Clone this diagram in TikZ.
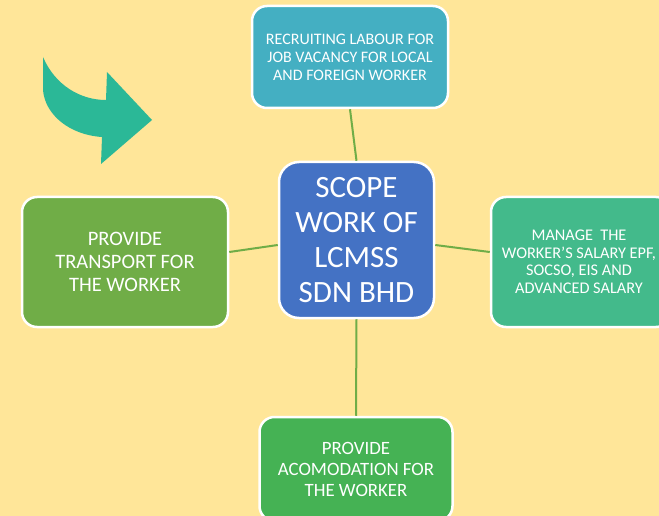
\documentclass[tikz,border=0pt]{standalone}
\usepackage{fontspec}
\setmainfont{Carlito}
\definecolor{bg}{HTML}{FFE699}
\definecolor{topc}{HTML}{44AFC2}
\definecolor{cenc}{HTML}{4472C4}
\definecolor{rightc}{HTML}{43BA8B}
\definecolor{leftc}{HTML}{70AD47}
\definecolor{botc}{HTML}{45B254}
\definecolor{linec}{HTML}{70AD47}
\definecolor{arrc}{HTML}{2BB897}
\tikzset{
  box/.style={draw=white, line width=2.5pt, rounded corners=15pt, text=white, align=center, inner sep=0pt},
  conn/.style={draw=linec, line width=2pt},
}
\begin{document}
\begin{tikzpicture}[x=1pt,y=-1pt]
\fill[bg] (0,0) rectangle (659,516);
\useasboundingbox (0,0) rectangle (659,516);
\clip (0,0) rectangle (659,516);
\fill[arrc] (43,57) .. controls (55,85) and (80,100) .. (106,100) -- (107,72) -- (152,120) -- (101,164) -- (102,137) .. controls (70,135) and (45,115) .. (43,90) -- cycle;
\node[box, fill=topc, minimum width=196pt, minimum height=102pt, font=\fontsize{16}{18}\selectfont] (top) at (350,57) {RECRUITING LABOUR FOR\\JOB VACANCY FOR LOCAL\\AND FOREIGN WORKER};
\node[box, fill=cenc, minimum width=155pt, minimum height=156pt, rounded corners=20pt, font=\fontsize{31}{35}\selectfont] (cen) at (356.5,240) {SCOPE\\WORK OF\\LCMSS\\SDN BHD};
\node[box, fill=rightc, minimum width=180pt, minimum height=130pt] (right) at (581,262) {};
\node[text=white, align=center, inner sep=0pt, font=\fontsize{16.3}{17.5}\selectfont] (righttext) at (579,262) {MANAGE\ \ THE\\WORKER’S SALARY EPF,\\SOCSO, EIS AND\\ADVANCED SALARY};
\node[box, fill=leftc, minimum width=206pt, minimum height=130pt, font=\fontsize{20.5}{23}\selectfont] (left) at (125,262) {PROVIDE\\TRANSPORT FOR\\THE WORKER};
\node[box, fill=botc, minimum width=193pt, minimum height=104pt, font=\fontsize{18.8}{21}\selectfont] (bot) at (356,469) {PROVIDE\\ACOMODATION FOR\\THE WORKER};
\draw[conn] (top.south) -- (cen.north);
\draw[conn] ([yshift=10pt]left.east) -- ([yshift=-5pt]cen.west);
\draw[conn] ([yshift=-5pt]cen.east) -- ([yshift=10pt]right.west);
\draw[conn] (cen.south) -- (bot.north);
\end{tikzpicture}
\end{document}
